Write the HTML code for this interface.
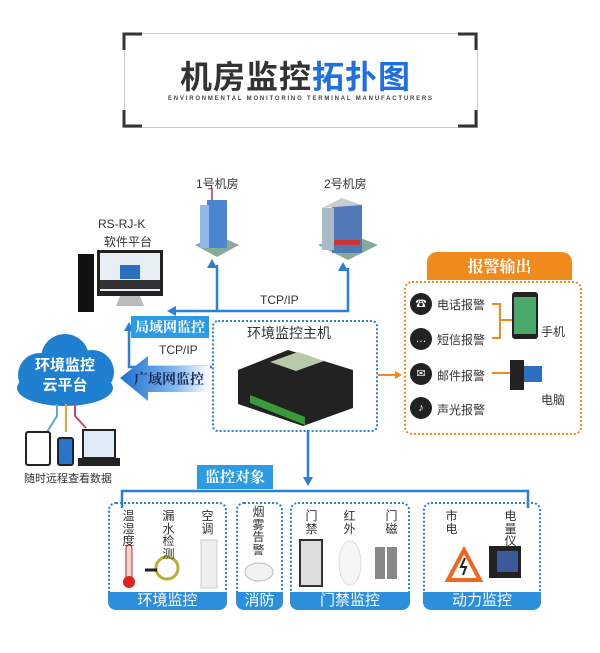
<!DOCTYPE html>
<html><head><meta charset="utf-8"><style>
body{margin:0;width:600px;height:653px;background:#fff;position:relative;overflow:hidden;font-family:"Liberation Sans","Noto Sans CJK SC",sans-serif;color:#333}
.a{position:absolute}
.t{position:absolute;white-space:nowrap}
.lbl{position:absolute;background:#2c8fdc;color:#fff;text-align:center;font-size:15px;line-height:18px;border-radius:0 0 8px 8px}
.grp{position:absolute;border:2px dotted #2c7fd6;border-radius:8px}
.vt{position:absolute;font-size:12px;line-height:12.5px;width:13px;text-align:center;color:#333}
.ic{position:absolute;width:22px;height:22px;border-radius:50%;background:#222;color:#fff;font-size:11px;line-height:22px;text-align:center}
</style></head><body>
<div class="a" style="left:124px;top:33px;width:352px;height:93px;border:1px solid #ccc"></div>
<svg class="a" style="left:0;top:0" width="600" height="653">
<g stroke="#333" stroke-width="3" fill="none">
<path d="M124 50V34H142"/><path d="M458 34H476V50"/><path d="M124 110V126H142"/><path d="M458 126H476V110"/>
</g>
<g stroke="#2c7fd6" stroke-width="2.5" fill="none">
<path d="M170 311H348V268"/><path d="M217 311V265"/>
<path d="M129 330V367H212"/>
<path d="M308 430V478"/>
<path d="M122 508V491H528V508"/>
</g>
<g fill="#2c7fd6">
<path d="M212 259l-5 9h10z"/><path d="M343 262l-5 9h10z"/><path d="M167 311l9-5v10z"/><path d="M124 331l5-9 5 9z"/><path d="M303 477l5 9 5-9z"/>
</g>
<defs><linearGradient id="g" x1="0" x2="1"><stop offset="0" stop-color="#1e6fd0"/><stop offset="0.6" stop-color="#7fb6ec"/><stop offset="1" stop-color="#fff"/></linearGradient></defs>
<path d="M120 378L148 356V366H210V392H148V401Z" fill="url(#g)"/>
<g fill="#1f7fd0"><circle cx="40" cy="375" r="22"/><circle cx="65" cy="358" r="24"/><circle cx="92" cy="372" r="22"/><ellipse cx="65" cy="388" rx="48" ry="18"/></g>
<g stroke-width="2" fill="none"><path d="M57 404V416L47 432" stroke="#5aa9de"/><path d="M66 404V432" stroke="#f0a030"/><path d="M75 404V416L86 428" stroke="#d0407a"/></g>
<rect x="26" y="432" width="24" height="33" rx="2" fill="#fff" stroke="#222" stroke-width="2"/>
<rect x="58" y="438" width="15" height="27" rx="2" fill="#2b74c8" stroke="#222" stroke-width="2"/>
<rect x="83" y="430" width="32" height="28" fill="#dfeaf6" stroke="#222" stroke-width="2"/>
<rect x="78" y="458" width="42" height="8" fill="#222"/>
<g stroke="#f08a1c" stroke-width="2" fill="none"><path d="M378 375H400"/><path d="M492 304H500V338H492M500 320H512"/><path d="M492 373H512"/></g>
<path d="M402 375l-7-4v8z" fill="#f08a1c"/>
<rect x="78" y="254" width="16" height="58" fill="#111"/>
<rect x="97" y="250" width="66" height="46" fill="#222"/>
<rect x="100" y="253" width="60" height="38" fill="#e8eef6"/>
<rect x="120" y="265" width="20" height="14" fill="#2a6fc0"/>
<rect x="100" y="280" width="60" height="9" fill="#333"/>
<path d="M120 296h20l4 10h-28z" fill="#bbb"/>
<path d="M195 245l22 12 22-12-22-10z" fill="#8a9"/>
<rect x="207" y="200" width="20" height="48" fill="#4a86d0"/><rect x="200" y="205" width="9" height="43" fill="#8fb8e8"/>
<path d="M212 200v-12" stroke="#c33" stroke-width="1.5"/>
<path d="M318 245l30 15 30-15-30-12z" fill="#8a9"/>
<rect x="332" y="205" width="30" height="48" fill="#4f78b8"/><rect x="322" y="208" width="12" height="42" fill="#aab8c8"/>
<path d="M322 208l20-10 20 7" fill="#c9ccd0"/>
<rect x="334" y="240" width="26" height="5" fill="#c33"/>
<path d="M238 370l50-20 65 20v38l-50 18-65-22z" fill="#222"/>
<path d="M270 362l28-10 26 9-28 10z" fill="#b8c8a8"/>
<path d="M250 395l55 22v8l-55-22z" fill="#3a9a3a"/>
<rect x="512" y="292" width="26" height="47" rx="3" fill="#222"/><rect x="514" y="297" width="22" height="37" fill="#4aa86a"/>
<rect x="510" y="360" width="14" height="30" fill="#222"/><rect x="524" y="366" width="18" height="16" fill="#2a6fc0"/>
<rect x="126" y="545" width="6" height="35" rx="3" fill="#e8d8d0" stroke="#c22"/><circle cx="129" cy="582" r="6" fill="#d22"/>
<circle cx="167" cy="568" r="11" fill="none" stroke="#b8b030" stroke-width="3"/><path d="M145 570h12" stroke="#222" stroke-width="3"/>
<rect x="201" y="540" width="16" height="48" fill="#eee" stroke="#ccc"/>
<ellipse cx="259" cy="572" rx="14" ry="9" fill="#f2f2f2" stroke="#bbb"/>
<rect x="300" y="540" width="22" height="46" fill="#ddd" stroke="#333" stroke-width="2"/>
<ellipse cx="350" cy="563" rx="11" ry="22" fill="#f6f6f6" stroke="#ddd"/>
<rect x="375" y="547" width="10" height="32" fill="#888"/><rect x="387" y="547" width="10" height="32" fill="#888"/>
<path d="M448 580l16-30 16 30z" fill="#fff" stroke="#f0661c" stroke-width="4"/><path d="M465 558l-4 9h5l-3 8" stroke="#222" stroke-width="2" fill="none"/>
<rect x="489" y="546" width="32" height="32" fill="#222"/><rect x="497" y="551" width="21" height="21" fill="#3a5a9a"/>
</svg>
<div class="t" style="left:180px;top:52px;font-size:32px;font-weight:bold;color:#333;letter-spacing:1px">机房监控<span style="color:#1e6ee6">拓扑图</span></div>
<div class="t" style="left:168px;top:96px;font-size:6px;letter-spacing:1.8px;color:#444;font-weight:bold">ENVIRONMENTAL MONITORING TERMINAL MANUFACTURERS</div>
<div class="t" style="left:196px;top:175px;font-size:12px">1号机房</div>
<div class="t" style="left:324px;top:175px;font-size:12px">2号机房</div>
<div class="t" style="left:98px;top:217px;font-size:12px">RS-RJ-K</div>
<div class="t" style="left:104px;top:233px;font-size:12px">软件平台</div>
<div class="t" style="left:260px;top:293px;font-size:12px">TCP/IP</div>
<div class="t" style="left:159px;top:343px;font-size:12px">TCP/IP</div>
<div class="t" style="left:131px;top:316px;width:78px;height:22px;background:#2c9be6;color:#fff;font-size:14px;line-height:22px;text-align:center;font-weight:bold;font-family:'Noto Serif CJK SC',serif">局域网监控</div>
<div class="t" style="left:134px;top:369px;font-size:14px;font-weight:bold;color:#1a2a5a;font-family:'Noto Serif CJK SC',serif">广域网监控</div>
<div class="t" style="left:22px;top:356px;width:86px;text-align:center;font-size:15px;line-height:20px;font-weight:bold;color:#fff">环境监控<br>云平台</div>
<div class="t" style="left:24px;top:470px;font-size:11px">随时远程查看数据</div>
<div class="a" style="left:212px;top:320px;width:162px;height:108px;border:2px dotted #2c7fd6;border-radius:6px"></div>
<div class="t" style="left:247px;top:323px;font-size:14px">环境监控主机</div>
<div class="t" style="left:427px;top:252px;width:145px;height:28px;background:#f08a1c;border-radius:10px 10px 0 0;color:#fff;font-size:16px;line-height:28px;text-align:center;font-weight:bold;font-family:'Noto Serif CJK SC',serif">报警输出</div>
<div class="a" style="left:404px;top:281px;width:174px;height:150px;border:2px dotted #f08a1c;border-radius:8px"></div>
<div class="ic" style="left:410px;top:293px">☎</div><div class="t" style="left:437px;top:296px;font-size:12px">电话报警</div>
<div class="ic" style="left:410px;top:328px">…</div><div class="t" style="left:437px;top:331px;font-size:12px">短信报警</div>
<div class="ic" style="left:410px;top:363px">✉</div><div class="t" style="left:437px;top:367px;font-size:12px">邮件报警</div>
<div class="ic" style="left:410px;top:397px">♪</div><div class="t" style="left:437px;top:401px;font-size:12px">声光报警</div>
<div class="t" style="left:541px;top:323px;font-size:12px">手机</div>
<div class="t" style="left:541px;top:391px;font-size:12px">电脑</div>
<div class="t" style="left:197px;top:465px;width:76px;height:24px;background:#2c9be6;color:#fff;font-size:15px;line-height:24px;text-align:center;font-weight:bold;font-family:'Noto Serif CJK SC',serif">监控对象</div>
<div class="grp" style="left:108px;top:502px;width:115px;height:104px"></div>
<div class="grp" style="left:236px;top:502px;width:43px;height:104px"></div>
<div class="grp" style="left:290px;top:502px;width:116px;height:104px"></div>
<div class="grp" style="left:423px;top:502px;width:114px;height:104px"></div>
<div class="lbl" style="left:108px;top:592px;width:119px">环境监控</div>
<div class="lbl" style="left:236px;top:592px;width:47px">消防</div>
<div class="lbl" style="left:290px;top:592px;width:120px">门禁监控</div>
<div class="lbl" style="left:423px;top:592px;width:118px">动力监控</div>
<div class="vt" style="left:122px;top:510px">温湿度</div>
<div class="vt" style="left:162px;top:510px">漏水检测</div>
<div class="vt" style="left:201px;top:510px">空调</div>
<div class="vt" style="left:252px;top:506px">烟雾告警</div>
<div class="vt" style="left:305px;top:510px">门禁</div>
<div class="vt" style="left:343px;top:510px">红外</div>
<div class="vt" style="left:385px;top:510px">门磁</div>
<div class="vt" style="left:445px;top:510px">市电</div>
<div class="vt" style="left:504px;top:510px">电量仪</div>
</body></html>
